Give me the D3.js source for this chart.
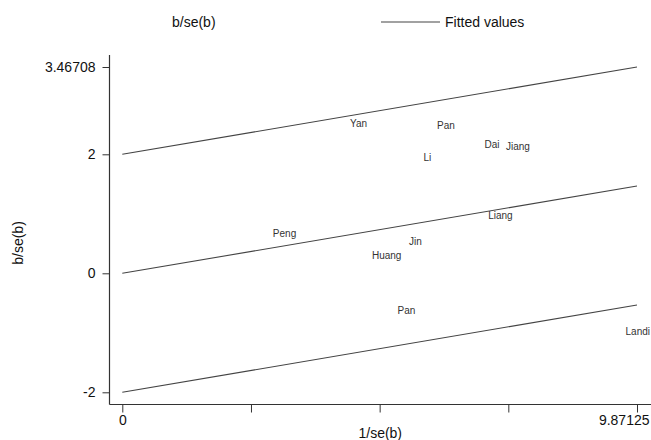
<!DOCTYPE html>
<html>
<head>
<meta charset="utf-8">
<script src="https://cdn.jsdelivr.net/npm/d3@7"></script>
<style>
  body { margin: 0; background: #fff; }
  text { font-family: "Liberation Sans", Arial, sans-serif; }
</style>
</head>
<body>
<svg id="chart" width="651" height="440"></svg>
<script>
// Galbraith plot: standardised effect (b/se) against precision (1/se)
const studies   = ["Yan", "Pan", "Dai", "Jiang", "Li", "Peng", "Liang", "Jin", "Huang", "Pan", "Landi"];
const precision = [4.31, 5.98, 6.89, 7.30, 5.72, 2.83, 6.96, 5.44, 4.73, 5.22, 9.87125];
const zScores   = [2.51, 2.49, 2.17, 2.13, 1.94, 0.67, 0.97, 0.53, 0.30, -0.63, -0.98];

const xMax = 9.87125;            // largest precision, labelled on the x axis
const yTop = 3.46708;            // upper band value at xMax, labelled on the y axis
const yTickValues = [-2, 0, 2, yTop];
const bandOffsets = [2, 0, -2];  // fitted line and its ±2 limits
const slope = (yTop - 2) / xMax;

const W = 651, H = 440;
const svg = d3.select("#chart");

const x = d3.scaleLinear().domain([0, xMax]).range([122.3, 637]);
const y = d3.scaleLinear().domain([-2, 2]).range([392.3, 154.3]);

const axisX = 109.5, axisY = 404.5, axisTop = 55, axisRight = 651;
const ink = "#333";

// axis lines
svg.append("line").attr("x1", axisX).attr("x2", axisX).attr("y1", axisTop).attr("y2", axisY)
  .attr("stroke", ink).attr("stroke-width", 1.2);
svg.append("line").attr("x1", axisX).attr("x2", axisRight).attr("y1", axisY).attr("y2", axisY)
  .attr("stroke", ink).attr("stroke-width", 1.2);

// y axis
const gy = svg.append("g").attr("transform", `translate(${axisX},0)`)
  .call(d3.axisLeft(y).tickValues(yTickValues).tickSize(7).tickPadding(7)
    .tickFormat(d => d === yTop ? "3.46708" : String(d)));
gy.select(".domain").remove();
gy.selectAll(".tick line").attr("stroke", ink);
gy.selectAll(".tick text").attr("font-size", 14).attr("fill", "#111")
  .style("font-family", '"Liberation Sans", Arial, sans-serif');

// x axis: evenly spaced ticks, labelled only at the ends
const xTickValues = [0, xMax / 4, xMax / 2, 3 * xMax / 4, xMax];
const gx = svg.append("g").attr("transform", `translate(0,${axisY})`)
  .call(d3.axisBottom(x).tickValues(xTickValues).tickSize(8).tickPadding(3)
    .tickFormat((d, i) => i === 0 ? "0" : (i === xTickValues.length - 1 ? "9.87125" : "")));
gx.select(".domain").remove();
gx.selectAll(".tick line").attr("stroke", ink);
gx.selectAll(".tick text").attr("font-size", 14).attr("fill", "#111")
  .style("font-family", '"Liberation Sans", Arial, sans-serif');
// keep the end label inside the canvas
gx.selectAll(".tick").each(function (d) {
  const t = d3.select(this).select("text");
  const w = t.node().getComputedTextLength();
  const right = x(d) + w / 2;
  if (right > W - 2) t.attr("x", (W - 2) - right);
});

// fitted line and ±2 bands
const fitLine = d3.line().x(d => x(d[0])).y(d => y(d[1]));
svg.append("g").selectAll("path").data(bandOffsets).join("path")
  .attr("d", c => fitLine([[0, c], [xMax, c + slope * xMax]]))
  .attr("fill", "none").attr("stroke", "#444").attr("stroke-width", 1.1);

// study labels drawn at each point (no marker)
const pts = studies.map((s, i) => ({ name: s, px: precision[i], z: zScores[i] }));
svg.append("g").selectAll("text").data(pts).join("text")
  .attr("x", d => x(d.px) + 3)
  .attr("y", d => y(d.z))
  .attr("dy", "0.35em")
  .attr("font-size", 10)
  .attr("fill", "#333")
  .text(d => d.name)
  .each(function () {
    const t = d3.select(this);
    const w = this.getComputedTextLength();
    const left = +t.attr("x");
    if (left + w > W - 1) t.attr("x", W - 1 - w);
  });

// axis titles
svg.append("text").attr("x", (axisX + axisRight) / 2).attr("y", 433)
  .attr("text-anchor", "middle").attr("dy", "0.35em").attr("font-size", 14).attr("fill", "#111")
  .text("1/se(b)");
svg.append("text").attr("transform", "translate(18,243) rotate(-90)")
  .attr("text-anchor", "middle").attr("dy", "0.35em").attr("font-size", 14).attr("fill", "#111")
  .text("b/se(b)");

// legend
const legend = svg.append("g").attr("transform", "translate(0,22)");
legend.append("text").attr("x", 172).attr("dy", "0.35em").attr("font-size", 14).attr("fill", "#111")
  .text("b/se(b)");
legend.append("line").attr("x1", 381).attr("x2", 440).attr("stroke", "#444").attr("stroke-width", 1.1);
legend.append("text").attr("x", 445).attr("dy", "0.35em").attr("font-size", 14).attr("fill", "#111")
  .text("Fitted values");
</script>
</body>
</html>
